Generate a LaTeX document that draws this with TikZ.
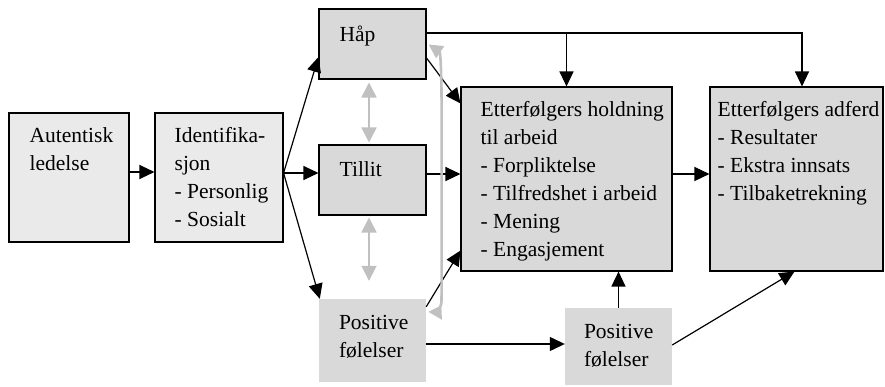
\documentclass[tikz,border=0pt]{standalone}
\usepackage{fontspec}
\setmainfont{Liberation Serif}
\usetikzlibrary{arrows.meta,calc}
\definecolor{lightfill}{HTML}{EAEAEA}
\definecolor{midfill}{HTML}{D9D9D9}
\definecolor{grayline}{HTML}{C0C0C0}
\begin{document}
\begin{tikzpicture}[x=1pt,y=-1pt,
  boxa/.style={draw=black, line width=1.1pt, fill=lightfill, inner sep=0pt},
  boxb/.style={draw=black, line width=1.1pt, fill=midfill, inner sep=0pt},
  boxc/.style={draw=none, fill=midfill, inner sep=0pt},
  txt/.style={font=\fontsize{21.5}{28}\selectfont, align=left, inner sep=0pt, anchor=north west},
  arr/.style={line width=1.2pt, -{Triangle[length=15pt,width=14pt]}},
  garr/.style={draw=grayline, line width=1.8pt, {Triangle[length=15pt,width=15pt]}-{Triangle[length=15pt,width=15pt]}}
]
\useasboundingbox (0,0) rectangle (885,387);

% boxes
\node[boxa, minimum width=120pt, minimum height=129pt] (aut) at (69,177.5) {};
\node[boxa, minimum width=128pt, minimum height=129pt] (ident) at (219,177.5) {};
\node[boxb, minimum width=107pt, minimum height=70pt] (hap) at (372.5,44) {};
\node[boxb, minimum width=107pt, minimum height=70pt] (tillit) at (372.5,180) {};
\node[boxc, minimum width=107pt, minimum height=83pt] (pos1) at (372.5,340.5) {};
\node[boxb, minimum width=211pt, minimum height=184pt] (hold) at (566.5,179) {};
\node[boxb, minimum width=173pt, minimum height=184pt] (adf) at (796.5,179) {};
\node[boxc, minimum width=107pt, minimum height=77pt] (pos2) at (618.5,346.5) {};

% texts (strut height 19.6pt above first baseline)
\node[txt] (taut) at ([xshift=21pt,yshift=-10.4pt]aut.north west) {\strut Autentisk\\ledelse};
\node[txt] (tident) at ([xshift=20pt,yshift=-10.4pt]ident.north west) {\strut Identifika-\\sjon\\- Personlig\\- Sosialt};
\node[txt] (thap) at ([xshift=21pt,yshift=-13.4pt]hap.north west) {\strut Håp};
\node[txt] (ttillit) at ([xshift=21pt,yshift=-12.4pt]tillit.north west) {\strut Tillit};
\node[txt] (tpos1) at ([xshift=20pt,yshift=-10.4pt]pos1.north west) {\strut Positive\\følelser};
\node[txt] (thold) at ([xshift=20pt,yshift=-10.4pt]hold.north west) {\strut Etterfølgers holdning\\til arbeid\\- Forpliktelse\\- Tilfredshet i arbeid\\- Mening\\- Engasjement};
\node[txt] (tadf) at ([xshift=8pt,yshift=-10.4pt]adf.north west) {\strut Etterfølgers adferd\\- Resultater\\- Ekstra innsats\\- Tilbaketrekning};
\node[txt] (tpos2) at ([xshift=19pt,yshift=-10.4pt]pos2.north west) {\strut Positive\\følelser};

% connectors
\draw[arr] ([yshift=5.5pt]aut.east) -- ([yshift=5.5pt]ident.west);
\coordinate (isplit) at ([yshift=4.5pt]ident.east);
\draw[arr] (isplit) -- ([yshift=-13pt]hap.west);
\draw[arr] (isplit) -- (isplit -| tillit.west);
\draw[arr] (isplit) -- ([xshift=1pt]pos1.north west);
\coordinate (htop) at ([yshift=11pt]hap.east);
\draw[arr] (htop) -| ([xshift=5.5pt]adf.north);
\draw[arr] (htop -| hold.north) -- (hold.north);
\draw[arr] ([yshift=-14pt]hap.east) -- ([yshift=-17pt]hold.north west);
\draw[arr] ([yshift=6pt]tillit.east) -- ([yshift=6pt]tillit.east -| hold.west);
\draw[arr] ([yshift=-8pt]pos1.north east) -- ([yshift=21pt]hold.south west);
\draw[arr] ([yshift=-3.5pt]pos1.east) -- ([yshift=-3.5pt]pos1.east -| pos2.west);
\draw[arr] (pos2.north) -- (pos2.north |- hold.south);
\draw[arr] ([yshift=1.5pt]pos2.east) -- ([xshift=-2pt]adf.south);
\draw[arr] ([yshift=5pt]hold.east) -- ([yshift=5pt]hold.east -| adf.west);

% gray links
\draw[garr, shorten <=3pt, shorten >=2pt] ([xshift=-3.5pt]hap.south) -- ([xshift=-3.5pt]tillit.north);
\draw[garr, shorten <=2pt, shorten >=18pt] ([xshift=-3.5pt]tillit.south) -- ([xshift=-3.5pt]pos1.north);
\coordinate (gtop) at ([xshift=2pt,yshift=-36pt]hap.north east);
\coordinate (gbot) at ([xshift=9pt,yshift=-17pt]pos1.north east);
\draw[draw=grayline, line width=2.6pt, {Triangle[length=14pt,width=14pt]}-{Triangle[reversed,length=12pt,width=15pt]}]
  (gtop) .. controls ([xshift=12pt,yshift=-8pt]gtop) and ([xshift=13pt]gtop |- 0,80) .. ([xshift=13pt]gtop |- 0,100)
  -- ([xshift=13pt]gtop |- 0,290) .. controls ([xshift=13pt]gtop |- 0,305) .. (gbot);
\end{tikzpicture}
\end{document}
